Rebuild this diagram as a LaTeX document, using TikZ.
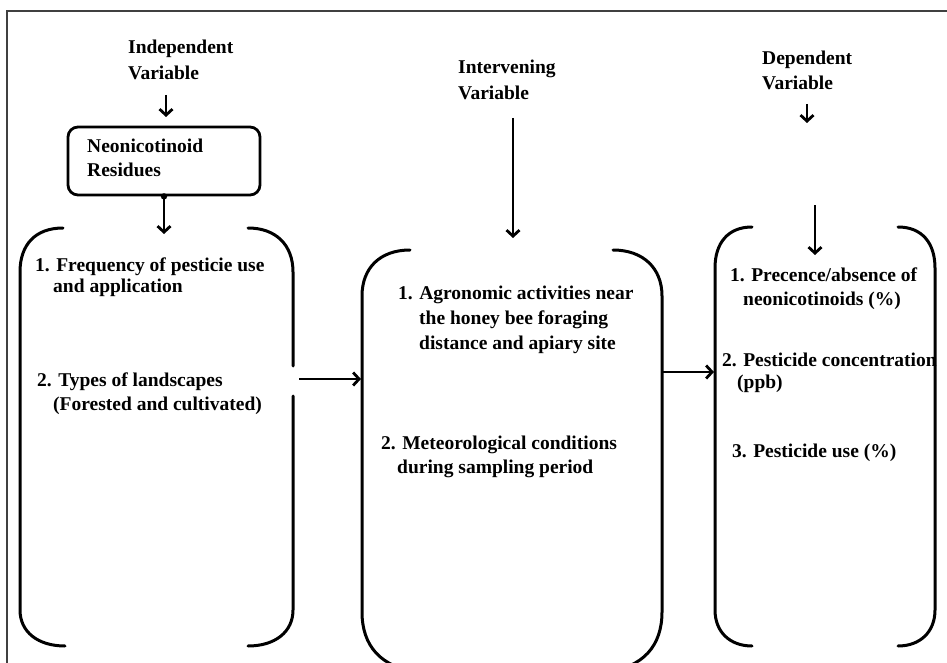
\documentclass[tikz,border=0pt]{standalone}
\usepackage{fontspec}
\setmainfont{Liberation Serif}
\usetikzlibrary{arrows.meta}
\begin{document}
\begin{tikzpicture}[x=1pt,y=-1pt,
 txt/.style={anchor=base west,inner sep=0pt,font=\fontsize{19.5}{24}\selectfont\bfseries},
 brk/.style={line width=3pt,line cap=round},
 arr/.style={line width=2.8pt,-{Straight Barb[length=6pt,width=13pt]}},
]
\useasboundingbox (0,0) rectangle (947,663);
\clip (0,0) rectangle (947,663);
\fill[white] (0,0) rectangle (947,663);
% frame
\draw[line width=2.5pt,draw=black!75] (7,11) rectangle (965,690);

% headings
\node[txt] (ind1) at (128,54) {Independent};
\node[txt] (ind2) at (128,80) {Variable};
\node[txt] (int1) at (458,74) {Intervening};
\node[txt] (int2) at (458,100) {Variable};
\node[txt] (dep1) at (762,65) {Dependent};
\node[txt] (dep2) at (762,90) {Variable};

% neonicotinoid box
\node[draw,line width=2.8pt,rounded corners=10pt,minimum width=192pt,minimum height=68pt,inner sep=0pt] (box) at (164,161) {};
\node[txt] (box1) at (87,153) {Neonicotinoid};
\node[txt] (box2) at (87,177) {Residues};
\fill (box.south) circle (3.2pt);

% left column text
\node[txt] (l1a) at (35,271) {1. Frequency of pesticie use};
\node[txt] (l1b) at (53,292) {and application};
\node[txt] (l2a) at (37,386) {2. Types of landscapes};
\node[txt] (l2b) at (53,410) {(Forested and cultivated)};

% middle column text
\node[txt] (m1a) at (398,299) {1. Agronomic activities near};
\node[txt] (m1b) at (419,324) {the honey bee foraging};
\node[txt] (m1c) at (419,349) {distance and apiary site};
\node[txt] (m2a) at (381,449) {2. Meteorological conditions};
\node[txt] (m2b) at (397,473) {during sampling period};

% right column text
\node[txt] (r1a) at (730,281) {1. Precence/absence of};
\node[txt] (r1b) at (743,305) {neonicotinoids (\%)};
\node[txt] (r2a) at (722,366) {2. Pesticide concentration};
\node[txt] (r2b) at (737,388) {(ppb)};
\node[txt] (r3a) at (732,457) {3. Pesticide use (\%)};

% left column brackets
\draw[brk] (63,228) .. controls (35,228) and (20,245) .. (20,272) -- (20,610) .. controls (20,632) and (38,646) .. (65,646);
\draw[brk] (248,228) .. controls (276,228) and (293,245) .. (293,272) -- (293,366);
\draw[brk] (293,396) -- (293,610) .. controls (293,632) and (275,646) .. (248,646);
% middle column brackets
\draw[brk] (410,250) .. controls (380,250) and (362,268) .. (362,296) -- (362,612) .. controls (362,645) and (380,668) .. (420,672);
\draw[brk] (613,250) .. controls (643,250) and (662,268) .. (662,296) -- (662,612) .. controls (662,645) and (644,668) .. (604,672);
% right column brackets
\draw[brk] (752,227) .. controls (728,227) and (715,243) .. (715,268) -- (715,610) .. controls (715,632) and (730,646) .. (752,646);
\draw[brk] (898,227) .. controls (922,227) and (935,243) .. (935,268) -- (935,610) .. controls (935,632) and (920,646) .. (898,646);

% arrow end points
\coordinate (a1s) at (166,95);
\coordinate (a1e) at (166,117);
\coordinate (a2s) at (box.south);
\coordinate (a2e) at (164,234);
\coordinate (a3s) at (513,118);
\coordinate (a3e) at (513,238);
\coordinate (a4s) at (807,104);
\coordinate (a4e) at (807,123);
\coordinate (a5s) at (815,205);
\coordinate (a5e) at (815,255);
\coordinate (a6s) at (299,379);
\coordinate (a6e) at (361,379);
\coordinate (a7s) at (663,372);
\coordinate (a7e) at (714,372);

\draw[arr] (a1s) -- (a1e);
\draw[arr] (a2s) -- (a2e);
\draw[arr] (a3s) -- (a3e);
\draw[arr] (a4s) -- (a4e);
\draw[arr] (a5s) -- (a5e);
\draw[arr] (a6s) -- (a6e);
\draw[arr] (a7s) -- (a7e);
\end{tikzpicture}
\end{document}
